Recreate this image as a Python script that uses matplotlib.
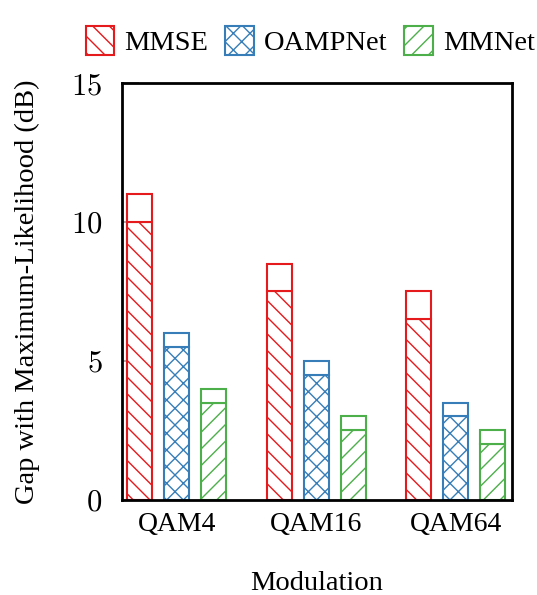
import numpy as np
import matplotlib
matplotlib.use("Agg")
import matplotlib.pyplot as plt

plt.rcParams['font.family'] = ['Liberation Serif', 'DejaVu Serif']
plt.rcParams['mathtext.fontset'] = 'cm'
plt.rcParams['hatch.linewidth'] = 1.0

# data (dB)
modulations = ["QAM4", "QAM16", "QAM64"]
methods = ["MMSE", "OAMPNet", "MMNet"]
gap_low = {"MMSE": [10, 7.5, 6.5], "OAMPNet": [5.5, 4.5, 3.0], "MMNet": [3.5, 2.5, 2.0]}
gap_top = {"MMSE": [11, 8.5, 7.5], "OAMPNet": [6.0, 5.0, 3.5], "MMNet": [4.0, 3.0, 2.5]}
yticks = [0, 5, 10, 15]

colors = {"MMSE": "#e41a1c", "OAMPNet": "#377eb8", "MMNet": "#4daf4a"}
hatches = {"MMSE": "\\\\", "OAMPNet": "xx", "MMNet": "//"}

fig = plt.figure(figsize=(5.37, 5.95), dpi=100)
ax = fig.add_axes([0.227, 0.16, 0.726, 0.7005])

x = np.arange(len(modulations))
width = 0.179
pitch = 0.265

handles = []
for i, m in enumerate(methods):
    pos = x + (i - 1) * pitch
    low = np.array(gap_low[m])
    top = np.array(gap_top[m])
    b = ax.bar(pos, low, width, facecolor='white', edgecolor=colors[m],
               hatch=hatches[m], linewidth=1.5, zorder=2, label=m)
    ax.bar(pos, top - low, width, bottom=low, facecolor='white',
           edgecolor=colors[m], linewidth=1.5, zorder=2)
    handles.append(b)

ax.set_xlim(-0.394, 2.40)
ax.set_ylim(0, 15)
ax.set_xticks(x)
ax.set_xticklabels(modulations, fontsize=20)
ax.set_yticks(yticks)
ax.set_yticklabels([f"${v}$" for v in yticks], fontsize=22)
ax.tick_params(axis='both', direction='in', length=12, width=1.2, color='#999999')
ax.tick_params(axis='y', pad=14)
ax.tick_params(axis='x', pad=9)
for sp in ax.spines.values():
    sp.set_linewidth(2)
    sp.set_zorder(3)
for t in ax.xaxis.get_ticklines() + ax.yaxis.get_ticklines():
    t.set_zorder(4)

ax.set_ylabel("Gap with Maximum-Likelihood (dB)", fontsize=20.5, labelpad=22)
ax.set_xlabel("Modulation", fontsize=20.5, labelpad=24)

fig.legend(handles=handles, labels=methods, loc='upper center', ncol=3,
           bbox_to_anchor=(0.578, 1.0), frameon=False, fontsize=20.5,
           handlelength=1.0, handleheight=1.2, handletextpad=0.35,
           columnspacing=0.6)

fig.savefig("out.png", dpi=100)
